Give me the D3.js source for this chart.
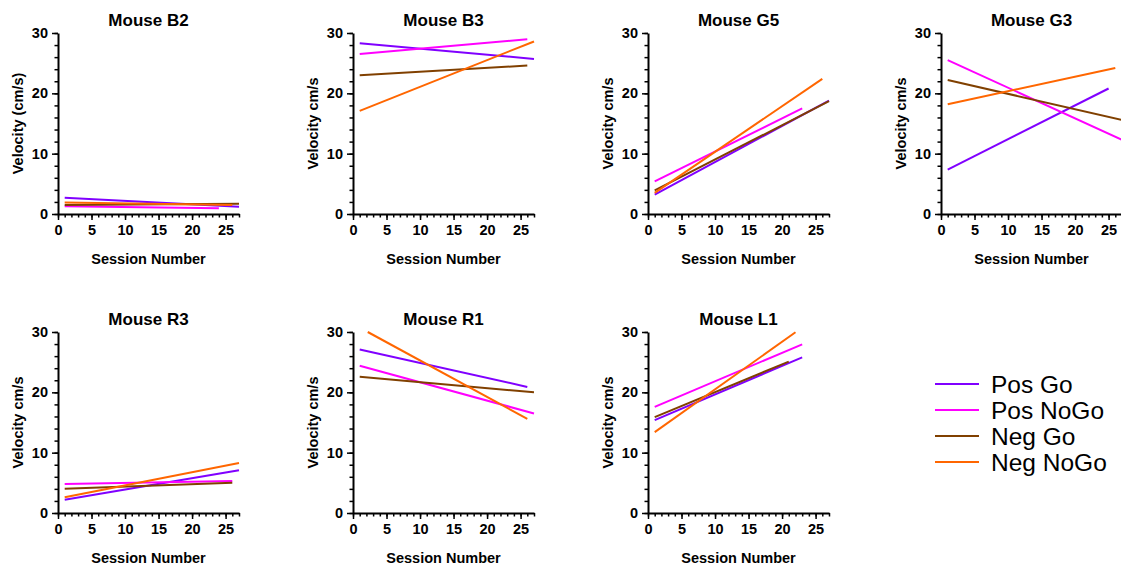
<!DOCTYPE html>
<html>
<head>
<meta charset="utf-8">
<script src="https://cdn.jsdelivr.net/npm/d3@7"></script>
<style>
  html, body { margin: 0; padding: 0; background: #fff; }
  svg { display: block; font-family: "Liberation Sans", Arial, sans-serif; }
</style>
</head>
<body>
<svg id="chart" width="1121" height="566"></svg>
<script>
// Fitted velocity trend per mouse: each series is [startSession, startVelocity, endSession, endVelocity]
const seriesNames = ["Pos Go", "Pos NoGo", "Neg Go", "Neg NoGo"];
const seriesColors = ["#8000ff", "#ff00ff", "#804000", "#ff6600"];

const mice = ["Mouse B2", "Mouse B3", "Mouse G5", "Mouse G3", "Mouse R3", "Mouse R1", "Mouse L1"];
const yTitles = ["Velocity (cm/s)", "Velocity cm/s", "Velocity cm/s", "Velocity cm/s",
                 "Velocity cm/s", "Velocity cm/s", "Velocity cm/s"];

const posGo = [
  [1, 2.7, 27, 1.2],
  [1, 28.3, 27, 25.7],
  [1, 3.2, 27, 18.8],
  [1, 7.35, 25, 20.8],
  [1, 2.2, 27, 7.07],
  [1, 27.1, 26, 20.9],
  [1, 15.4, 23, 25.8]
];
const posNoGo = [
  [1, 1.3, 24, 0.95],
  [1, 26.5, 26, 28.95],
  [1, 5.4, 23, 17.5],
  [1, 25.5, 27, 12.3],
  [1, 4.8, 26, 5.3],
  [1, 24.4, 27, 16.5],
  [1, 17.6, 23, 27.95]
];
const negGo = [
  [1, 1.5, 27, 1.7],
  [1, 23.0, 26, 24.6],
  [1, 3.9, 27, 18.7],
  [1, 22.2, 27, 15.6],
  [1, 4.0, 26, 5.0],
  [1, 22.6, 27, 20.0],
  [1, 15.9, 21, 25.1]
];
const negNoGo = [
  [1, 1.9, 26, 1.5],
  [1, 17.1, 27, 28.6],
  [1, 3.5, 26, 22.4],
  [1, 18.2, 26, 24.2],
  [1, 2.6, 27, 8.3],
  [2.2, 30.0, 26, 15.6],
  [1, 13.4, 22, 29.95]
];
const allSeries = [posGo, posNoGo, negGo, negNoGo];

const xTicks = [0, 5, 10, 15, 20, 25];
const yTicks = [0, 10, 20, 30];
const xDomain = [0, 27];
const yDomain = [0, 30];

// Grid layout
const colX = [58, 353, 648, 941];
const rowY = [33, 332];
const plotW = 181, plotH = 181;

const svg = d3.select("#chart");

const x = d3.scaleLinear().domain(xDomain).range([0, plotW]);
const y = d3.scaleLinear().domain(yDomain).range([plotH, 0]);

const line = d3.line().x(d => x(d[0])).y(d => y(d[1]));

mice.forEach((name, i) => {
  const col = i % 4, row = Math.floor(i / 4);
  const g = svg.append("g").attr("transform", `translate(${colX[col]},${rowY[row]})`);

  // Series lines
  allSeries.forEach((s, k) => {
    const seg = s[i];
    g.append("path")
      .datum([[seg[0], seg[1]], [seg[2], seg[3]]])
      .attr("d", line)
      .attr("fill", "none")
      .attr("stroke", seriesColors[k])
      .attr("stroke-width", 2);
  });

  // X axis: major ticks with labels, minor ticks every session
  const xMinor = g.append("g").attr("transform", `translate(0,${plotH})`)
    .call(d3.axisBottom(x).tickValues(d3.range(0, 28, 1)).tickSize(3.5).tickFormat(""));
  xMinor.select(".domain").remove();
  xMinor.selectAll("line").attr("stroke", "#000").attr("stroke-width", 1.5);

  const xAx = g.append("g").attr("transform", `translate(0,${plotH})`)
    .call(d3.axisBottom(x).tickValues(xTicks).tickSize(6).tickSizeOuter(0).tickPadding(5));
  xAx.select(".domain").attr("stroke", "#000").attr("stroke-width", 2);
  xAx.selectAll("line").attr("stroke", "#000").attr("stroke-width", 1.5);
  xAx.selectAll("text").attr("font-size", 14.5).attr("font-weight", "bold").attr("fill", "#000")
    .attr("font-family", "Liberation Sans, Arial, sans-serif");

  // Y axis: major ticks every 10, minor every 2
  const yMinor = g.append("g")
    .call(d3.axisLeft(y).tickValues(d3.range(0, 31, 2)).tickSize(3.5).tickFormat(""));
  yMinor.select(".domain").remove();
  yMinor.selectAll("line").attr("stroke", "#000").attr("stroke-width", 1.5);

  const yAx = g.append("g")
    .call(d3.axisLeft(y).tickValues(yTicks).tickSize(6).tickSizeOuter(0).tickPadding(4));
  yAx.select(".domain").attr("stroke", "#000").attr("stroke-width", 2);
  yAx.selectAll("line").attr("stroke", "#000").attr("stroke-width", 1.5);
  yAx.selectAll("text").attr("font-size", 14.5).attr("font-weight", "bold").attr("fill", "#000")
    .attr("font-family", "Liberation Sans, Arial, sans-serif");

  // Titles
  g.append("text")
    .attr("x", plotW / 2).attr("y", -7)
    .attr("text-anchor", "middle")
    .attr("font-size", 17).attr("font-weight", "bold")
    .text(name);

  g.append("text")
    .attr("x", plotW / 2).attr("y", plotH + 50)
    .attr("text-anchor", "middle")
    .attr("font-size", 14.5).attr("font-weight", "bold")
    .text("Session Number");

  g.append("text")
    .attr("transform", `translate(-35,${plotH / 2}) rotate(-90)`)
    .attr("text-anchor", "middle")
    .attr("font-size", 14.5).attr("font-weight", "bold")
    .text(yTitles[i]);
});

// Legend
const legend = svg.append("g").attr("transform", "translate(935,384)");
seriesNames.forEach((n, k) => {
  const row = legend.append("g").attr("transform", `translate(0,${k * 26})`);
  row.append("line").attr("x1", 0).attr("x2", 44).attr("y1", 0).attr("y2", 0)
    .attr("stroke", seriesColors[k]).attr("stroke-width", 2);
  row.append("text").attr("x", 56).attr("y", 9)
    .attr("font-size", 24.5).attr("fill", "#000")
    .text(n);
});
</script>
</body>
</html>
